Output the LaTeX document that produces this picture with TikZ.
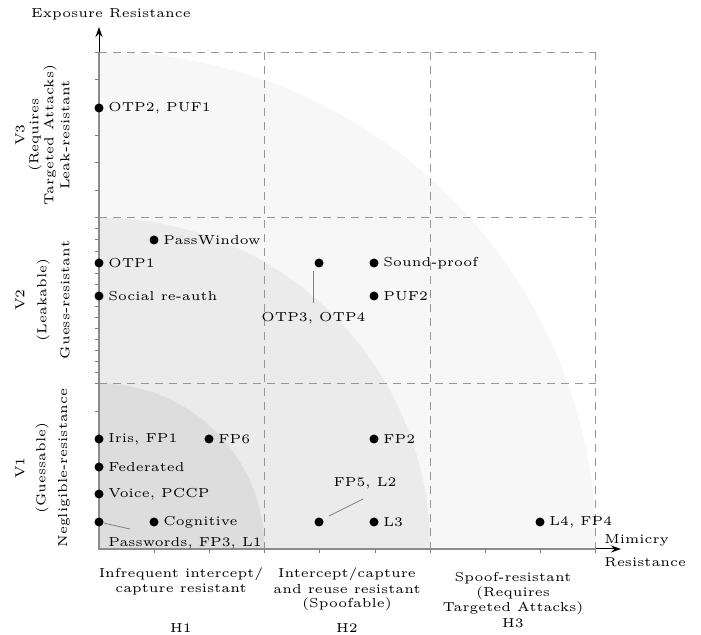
\documentclass[tikz,border=0pt]{standalone}
\usepackage{fontspec}
\setmainfont{lmroman5-regular}[Extension=.otf]
\usetikzlibrary{arrows.meta}
\definecolor{shadeA}{RGB}{221,221,221}
\definecolor{shadeB}{RGB}{235,235,235}
\definecolor{shadeC}{RGB}{247,247,247}
\definecolor{gridc}{RGB}{150,150,150}
\definecolor{axisc}{RGB}{140,140,140}
\begin{document}
\begin{tikzpicture}[x=0.5pt,y=-0.5pt,
  every node/.style={font=\fontsize{6.5}{7.5}\selectfont, inner sep=0pt},
  gridline/.style={gridc, line width=0.5pt, dash pattern=on 4pt off 3pt},
  dot/.style={circle, fill=black, minimum size=4.5pt, inner sep=0pt},
  lab/.style={anchor=west},
  leader/.style={gray, line width=0.4pt},
  tickl/.style={gray, line width=0.4pt},
  vlab/.style={rotate=90, anchor=center},
  hlab/.style={align=center, anchor=center}
]
\useasboundingbox (0,0) rectangle (701,635);
% shaded quarter discs
\fill[shadeC] (99,549) -- ++(497,0) arc[start angle=0,end angle=-90,radius=497] -- cycle;
\fill[shadeB] (99,549) -- ++(331.2,0) arc[start angle=0,end angle=-90,radius=331.2] -- cycle;
\fill[shadeA] (99,549) -- ++(165.6,0) arc[start angle=0,end angle=-90,radius=165.6] -- cycle;
% grid
\draw[gridline] (99,52.2) -- (595.8,52.2);
\draw[gridline] (99,217.8) -- (595.8,217.8);
\draw[gridline] (99,383.4) -- (595.8,383.4);
\foreach \gx in {264.6,430.2,595.8} \draw[gridline] (\gx,52.2) -- (\gx,549);
% axes
\coordinate (o) at (99,549);
\coordinate (ytip) at (99,27);
\coordinate (xtip) at (621,549);
\draw[line width=0.5pt, -{Stealth[length=5pt,width=3.5pt]}] (o) -- (ytip);
\draw[line width=0.5pt, -{Stealth[length=5pt,width=3.5pt]}] (o) -- (xtip);
\draw[axisc, line width=1pt] (99,52.2) -- (o) -- (595.8,549);
% ticks
\foreach \k in {1,...,9} \draw[tickl] (99+55.2*\k,549) -- ++(0,4);
\foreach \k in {1,...,6} \draw[tickl] (99,549-27.6*\k) -- ++(-4,0);
\foreach \k in {1,...,15} \draw[tickl] (99,383.4-11.04*\k) -- ++(-4,0);
\foreach \k in {1,...,6} \draw[tickl] (99,217.8-27.6*\k) -- ++(-4,0);
% axis titles
\node (yt) at (111,14) {Exposure Resistance};
\node[anchor=west] (xt1) at (604,540) {Mimicry};
\node[anchor=west] (xt2) at (604,562) {Resistance};
% vertical labels
\node[vlab] (v3a) at (20,135) {V3};
\node[vlab] (v3b) at (35,135) {(Requires};
\node[vlab] (v3c) at (50,135) {Targeted Attacks)};
\node[vlab] (v3d) at (65,135) {Leak-resistant};
\node[vlab] (v2a) at (20,300) {V2};
\node[vlab] (v2b) at (43,300) {(Leakable)};
\node[vlab] (v2c) at (65,300) {Guess-resistant};
\node[vlab] (v1a) at (20,468) {V1};
\node[vlab] (v1b) at (42,468) {(Guessable)};
\node[vlab] (v1c) at (64,468) {Negligible-resistance};
% bottom labels
\node[hlab] (h1a) at (181,574) {Infrequent intercept/};
\node[hlab] (h1b) at (181,589) {capture resistant};
\node[hlab] (h1) at (181,628) {H1};
\node[hlab] (h2a) at (347,574) {Intercept/capture};
\node[hlab] (h2b) at (347,589) {and reuse resistant};
\node[hlab] (h2c) at (347,604) {(Spoofable)};
\node[hlab] (h2) at (347,628) {H2};
\node[hlab] (h3a) at (513,578) {Spoof-resistant};
\node[hlab] (h3b) at (513,593) {(Requires};
\node[hlab] (h3c) at (513,608) {Targeted Attacks)};
\node[hlab] (h3) at (513,623) {H3};
% points
\node[dot] (otp2) at (99,108) {};
\node[lab] (otp2l) at (108,108) {OTP2, PUF1};
\node[dot] (pw) at (154,240) {};
\node[lab] (pwl) at (163,240) {PassWindow};
\node[dot] (otp1) at (99,263) {};
\node[lab] (otp1l) at (108,263) {OTP1};
\node[dot] (soc) at (99,296) {};
\node[lab] (socl) at (108,296) {Social re-auth};
\node[dot] (otp3) at (319,263) {};
\node (otp3l) at (313.5,318) {OTP3, OTP4};
\coordinate (otp3a) at (313,271);
\coordinate (otp3b) at (313,303);
\draw[leader] (otp3a) -- (otp3b);
\node[dot] (snd) at (374,263) {};
\node[lab] (sndl) at (383,263) {Sound-proof};
\node[dot] (puf2) at (374,296) {};
\node[lab] (puf2l) at (383,296) {PUF2};
\node[dot] (iris) at (99,439) {};
\node[lab] (irisl) at (108,439) {Iris, FP1};
\node[dot] (fp6) at (209,439) {};
\node[lab] (fp6l) at (218,439) {FP6};
\node[dot] (fed) at (99,467) {};
\node[lab] (fedl) at (108,467) {Federated};
\node[dot] (voice) at (99,494) {};
\node[lab] (voicel) at (108,494) {Voice, PCCP};
\node[dot] (fp2) at (374,439) {};
\node[lab] (fp2l) at (383,439) {FP2};
\node[dot] (pass) at (99,522) {};
\node[lab] (passl) at (108,543) {Passwords, FP3, L1};
\coordinate (passe) at (130,529);
\draw[leader] (pass) -- (passe);
\node[dot] (cog) at (154,522) {};
\node[lab] (cogl) at (163,522) {Cognitive};
\node[dot] (fp5) at (319,522) {};
\node (fp5l) at (365,483) {FP5, L2};
\coordinate (fp5a) at (329,516);
\coordinate (fp5b) at (363,499);
\draw[leader] (fp5a) -- (fp5b);
\node[dot] (l3) at (374,522) {};
\node[lab] (l3l) at (383,522) {L3};
\node[dot] (l4) at (540,522) {};
\node[lab] (l4l) at (549,522) {L4, FP4};
\end{tikzpicture}
\end{document}
